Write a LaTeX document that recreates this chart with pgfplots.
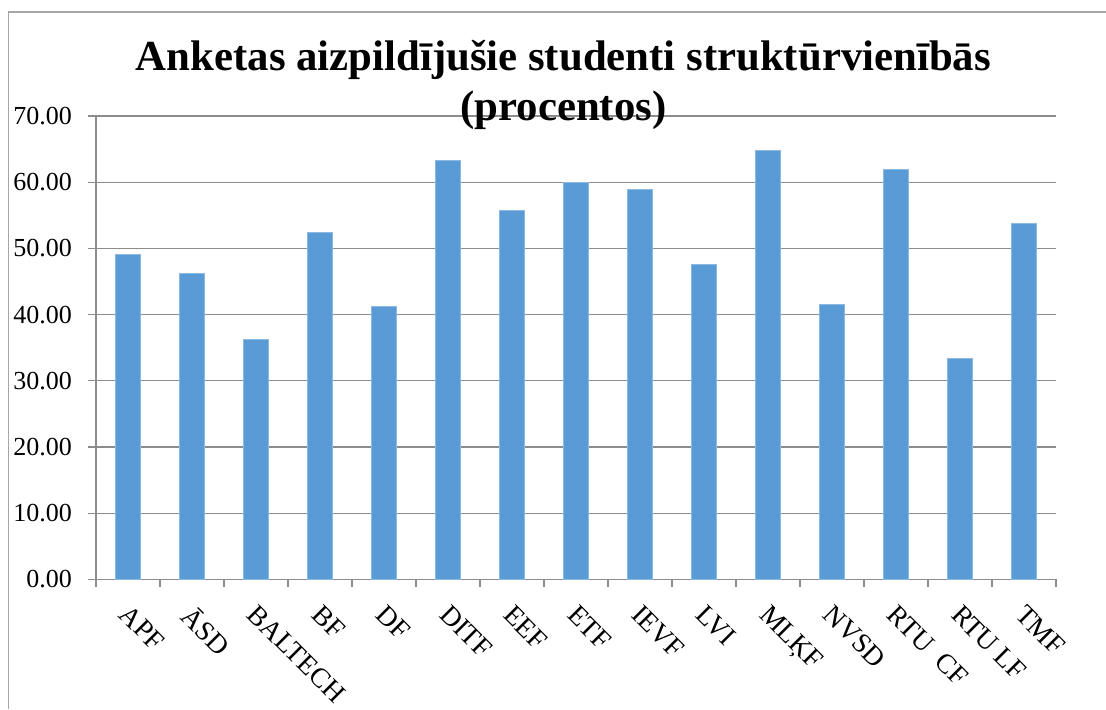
\documentclass[border=0pt]{standalone}
\usepackage{pgfplots}
\pgfplotsset{compat=1.18}
\usepackage{fontspec}
\setmainfont{Liberation Serif}
\definecolor{barblue}{HTML}{5B9BD5}
\definecolor{gridgray}{HTML}{8C8C8C}
\definecolor{framegray}{HTML}{A6A6A6}
\begin{document}
\begin{tikzpicture}
\path[use as bounding box] (0pt,0pt) rectangle (553pt,354.5pt);
\draw[framegray, line width=0.6pt] (4.3pt,0pt) -- (4.3pt,348.5pt) -- (553pt,348.5pt);
\begin{axis}[
  at={(48pt,64.85pt)}, anchor=south west,
  scale only axis, width=480pt, height=231.65pt,
  ymin=0, ymax=70, ytick={0,10,...,70},
  xmin=-0.5, xmax=14.5,
  xtick={0,...,14},
  xticklabels={APF,ĀSD,BALTECH,BF,DF,DITF,EEF,ETF,IEVF,LVI,MLĶF,NVSD,RTU~~CF,RTU LF,TMF},
  minor xtick={-0.5,0.5,...,14.5},
  major x tick style={draw=none},
  tick align=outside,
  major tick length=4pt, minor tick length=4pt,
  every tick/.style={gridgray, line width=0.6pt},
  axis lines*=left,
  axis line style={gridgray, line width=0.6pt},
  ymajorgrids, grid style={gridgray, line width=0.6pt},
  /pgf/number format/assume math mode=true,
  yticklabel style={/pgf/number format/fixed, /pgf/number format/fixed zerofill, /pgf/number format/precision=2, font=\fontsize{13}{15}\selectfont, xshift=-4.5pt},
  xticklabel style={rotate=-45, anchor=north west, font=\fontsize{13.8}{16}\selectfont, inner sep=1pt, xshift=5.5pt, yshift=-3.5pt},
  ybar, bar width=12.85pt,
  clip=false,
]
\addplot[fill=barblue, draw=barblue!70!white, line width=0.4pt] coordinates {
(0,49.15) (1,46.15) (2,36.2) (3,52.47) (4,41.29) (5,63.3) (6,55.8) (7,60.02)
(8,58.9) (9,47.63) (10,64.86) (11,41.54) (12,61.94) (13,33.43) (14,53.78)
};
\end{axis}
\node[font=\bfseries\fontsize{21.4}{25}\selectfont, anchor=base] at (281.7pt,319.5pt)
  {Anketas aizpildījušie studenti struktūrvienībās};
\node[font=\bfseries\fontsize{21.4}{25}\selectfont, anchor=base] at (281.7pt,294.5pt)
  {(procentos)};
\end{tikzpicture}
\end{document}
